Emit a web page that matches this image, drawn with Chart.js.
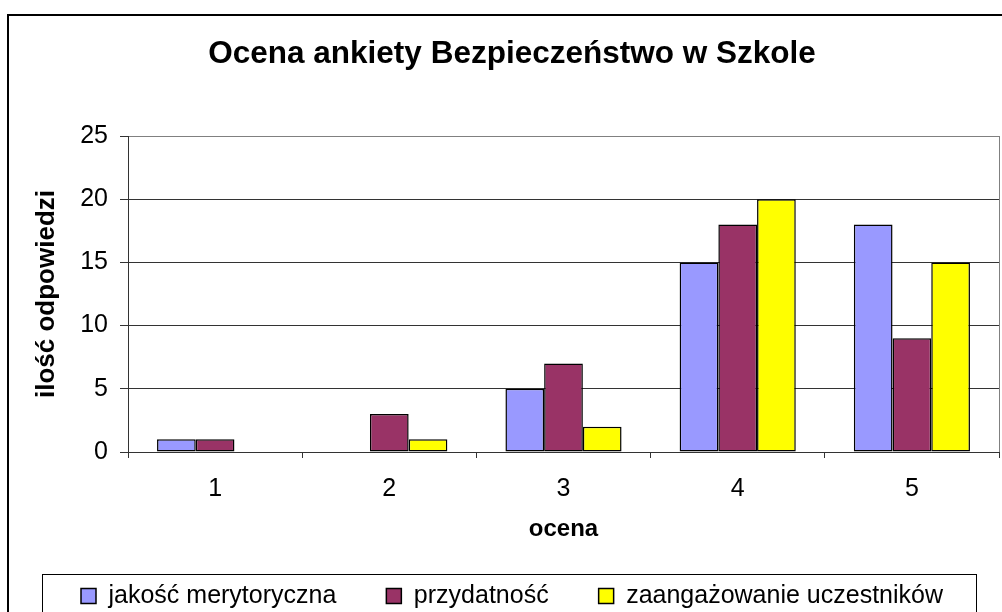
<!DOCTYPE html>
<html>
<head>
<meta charset="utf-8">
<script src="https://cdn.jsdelivr.net/npm/chart.js@4/dist/chart.umd.min.js"></script>
<style>
  html, body { margin: 0; padding: 0; background: #fff; overflow: hidden; width: 1002px; height: 612px; }
  #frame { position: absolute; left: 7px; top: 14px; width: 1100px; height: 700px; border: 2px solid #000; }
  #wrap { position: absolute; left: 0; top: 0; width: 1010px; height: 640px; }
</style>
</head>
<body>
<div id="frame"></div>
<div id="wrap"><canvas id="chart" width="1010" height="640"></canvas></div>
<script>
// ---- data ----
const ratings = ['1', '2', '3', '4', '5'];
const seriesNames = ['jakość merytoryczna', 'przydatność', 'zaangażowanie uczestników'];
const jakosc = [1, 0, 5, 15, 18];
const przydatnosc = [1, 3, 7, 18, 9];
const zaangazowanie = [0, 1, 2, 20, 15];
const yMax = 25;
const yStep = 5;

const FONT = "'Liberation Sans', Arial, sans-serif";

// gray plot-area border on the right, box around the legend
const frameBits = {
  id: 'frameBits',
  beforeDatasetsDraw(chart) {
    const { ctx, chartArea: a } = chart;
    ctx.save();
    ctx.strokeStyle = '#808080';
    ctx.lineWidth = 1;
    ctx.beginPath();
    ctx.moveTo(a.right + 0.5, a.top);
    ctx.lineTo(a.right + 0.5, a.bottom);
    ctx.stroke();
    ctx.restore();
  },
  afterDraw(chart) {
    const boxes = chart.legend.legendHitBoxes;
    if (!boxes || !boxes.length) return;
    const first = boxes[0], last = boxes[boxes.length - 1];
    const ctx = chart.ctx;
    ctx.save();
    ctx.strokeStyle = '#000';
    ctx.lineWidth = 1;
    const x0 = Math.round(first.left - 39) + 0.5;
    const x1 = Math.round(last.left + last.width + 33) + 0.5;
    const y0 = Math.round(first.top - 9.5) + 0.5;
    ctx.strokeRect(x0, y0, x1 - x0, 80);
    ctx.restore();
  }
};

new Chart(document.getElementById('chart'), {
  type: 'bar',
  data: {
    labels: ratings,
    datasets: [
      { label: seriesNames[0], data: jakosc, backgroundColor: '#9999FF' },
      { label: seriesNames[1], data: przydatnosc, backgroundColor: '#993366' },
      { label: seriesNames[2], data: zaangazowanie, backgroundColor: '#FFFF00' },
    ].map(d => ({ ...d, borderColor: '#000', borderWidth: 1.5, borderSkipped: false,
                  barPercentage: 1, categoryPercentage: 3 / 4.5 })),
  },
  options: {
    responsive: false,
    animation: false,
    layout: { padding: { left: 25, right: 11, top: 16, bottom: 21.5 } },
    plugins: {
      title: {
        display: true,
        text: 'Ocena ankiety Bezpieczeństwo w Szkole',
        color: '#000',
        font: { family: FONT, size: 31.5, weight: 'bold' },
        padding: { top: 19.1, bottom: 63.1 },
      },
      legend: {
        position: 'bottom',
        labels: {
          color: '#000',
          font: { family: FONT, size: 25 },
          boxWidth: 15,
          boxHeight: 15,
          padding: 50,
        },
      },
      tooltip: { enabled: false },
    },
    scales: {
      x: {
        afterFit(scale) { scale.height = 81.5; },
        ticks: { color: '#000', font: { family: FONT, size: 25 }, padding: 16 },
        grid: { drawOnChartArea: false, drawTicks: true, tickLength: 6, color: '#333' },
        border: { color: '#333', width: 1 },
        title: {
          display: true, text: 'ocena', color: '#000',
          font: { family: FONT, size: 24, weight: 'bold' },
          padding: { top: 0, bottom: -9.9 },
        },
      },
      y: {
        min: 0,
        max: yMax,
        afterFit(scale) { scale.width = 103; },
        ticks: { stepSize: yStep, color: '#000', font: { family: FONT, size: 25 }, padding: 12 },
        grid: {
          color: c => (c.tick && c.tick.value === yMax ? '#808080' : '#333'),
          tickColor: '#333',
          tickLength: 8,
          lineWidth: 1,
        },
        border: { color: '#333', width: 1 },
        title: {
          display: true, text: 'ilość odpowiedzi', color: '#000',
          font: { family: FONT, size: 26, weight: 'bold' },
          padding: { top: 6, bottom: 0 },
        },
      },
    },
  },
  plugins: [frameBits],
});
</script>
</body>
</html>
